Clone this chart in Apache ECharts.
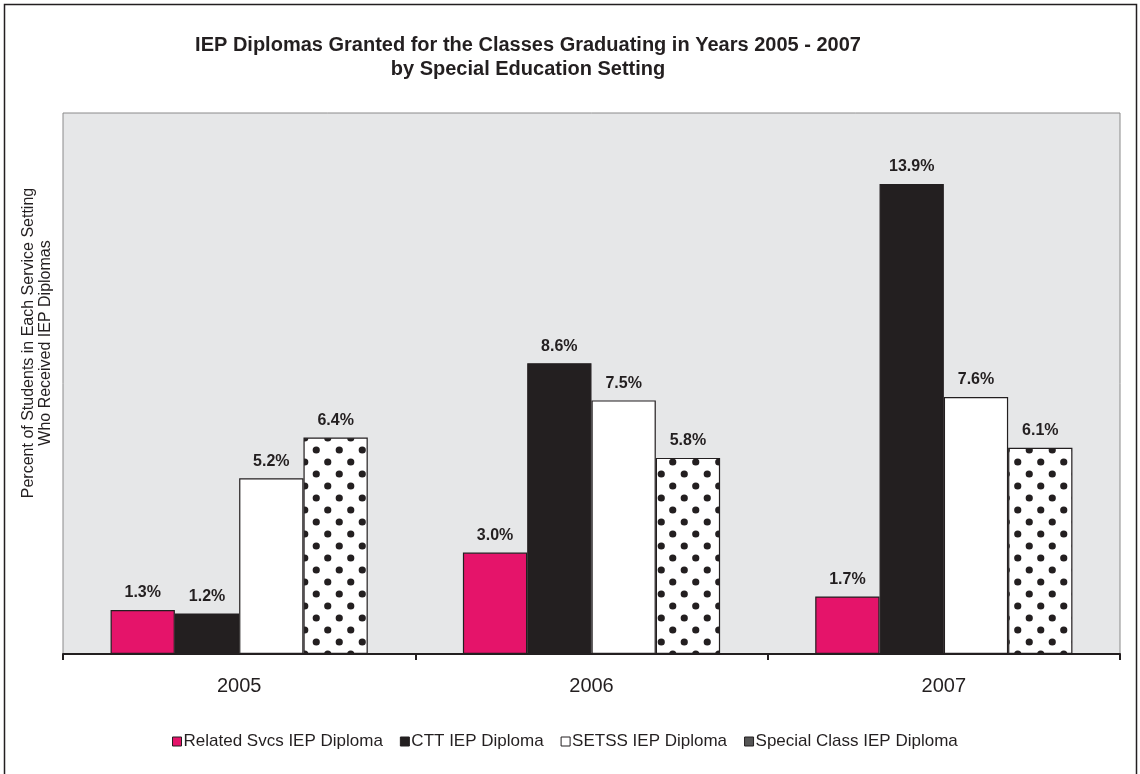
<!DOCTYPE html>
<html><head><meta charset="utf-8">
<script src="https://cdn.jsdelivr.net/npm/echarts@6/dist/echarts.min.js"></script>
<style>html,body{margin:0;padding:0;background:#fff}#c{width:1140px;height:774px}</style>
</head><body><div id="c"></div>
<script>
const categories = ['2005', '2006', '2007'];
const seriesNames = ['Related Svcs IEP Diploma', 'CTT IEP Diploma', 'SETSS IEP Diploma', 'Special Class IEP Diploma'];
const relatedSvcs = [1.3, 3.0, 1.7];
const ctt = [1.2, 8.6, 13.9];
const setss = [5.2, 7.5, 7.6];
const specialClass = [6.4, 5.8, 6.1];

const FONT = '"Liberation Sans", Arial, sans-serif';
const INK = '#231f20';

// dot pattern tile
const tile = document.createElement('canvas');
tile.width = 23; tile.height = 24;
const tc = tile.getContext('2d');
tc.fillStyle = '#fff'; tc.fillRect(0, 0, 23, 24);
tc.fillStyle = INK;
[[5.75, 6], [17.25, 18], [17.25 - 23, 18], [5.75 + 23, 6]].forEach(([x, y]) => {
  tc.beginPath(); tc.arc(x, y, 3.6, 0, Math.PI * 2); tc.fill();
});

const fills = ['#e5146a', INK, '#ffffff', { image: tile, repeat: 'repeat' }];
const legendColors = ['#e5146a', INK, '#ffffff', '#555555'];
const dataSets = [relatedSvcs, ctt, setss, specialClass];

const chart = echarts.init(document.getElementById('c'), null, { renderer: 'canvas' });
chart.setOption({
  animation: false,
  backgroundColor: '#fff',
  title: {
    text: 'IEP Diplomas Granted for the Classes Graduating in Years 2005 - 2007\nby Special Education Setting',
    left: 523, top: 28, textAlign: 'center',
    textStyle: { fontFamily: FONT, fontSize: 20, fontWeight: 'bold', color: INK, lineHeight: 24 }
  },
  grid: { left: 63, right: 20, top: 113, bottom: 120, containLabel: false, show: true,
    backgroundColor: '#e6e7e8', borderColor: '#8a8a8a', borderWidth: 1 },
  legend: {
    bottom: 19, left: 167, itemWidth: 9, itemHeight: 9, itemGap: 17,
    icon: 'rect',
    textStyle: { fontFamily: FONT, fontSize: 17, color: INK, padding: [0, 0, 0, -3] },
    data: seriesNames.map((n, i) => ({ name: n, itemStyle: { color: legendColors[i], borderColor: INK, borderWidth: 1 } }))
  },
  xAxis: {
    type: 'category', data: categories,
    axisLine: { show: true, lineStyle: { color: INK, width: 2 } },
    axisTick: { show: true, length: 6, lineStyle: { color: INK, width: 2 } },
    axisLabel: { fontFamily: FONT, fontSize: 20, color: INK, margin: 22 },
    splitLine: { show: false }
  },
  yAxis: {
    type: 'value', min: 0, max: 16, interval: 2,
    axisLine: { show: false }, axisTick: { show: false }, axisLabel: { show: false },
    splitLine: { show: false }
  },
  graphic: [
    { type: 'rect', shape: { x: 4.5, y: 4.5, width: 1132, height: 800 }, style: { fill: null, stroke: INK, lineWidth: 1.5 }, silent: true, z: 100 },
    { type: 'text', x: 37, y: 343, rotation: Math.PI / 2, style: {
      text: 'Percent of Students in Each Service Setting\nWho Received IEP Diplomas',
      fill: INK, font: '16px ' + FONT, align: 'center', verticalAlign: 'middle', lineHeight: 17 } }
  ],
  series: seriesNames.map((n, i) => ({
    name: n, type: 'bar', data: dataSets[i],
    barGap: '0%', barCategoryGap: '27%',
    itemStyle: { color: fills[i], borderColor: INK, borderWidth: 1.2 },
    label: { show: true, position: 'top', distance: 9, formatter: p => p.value.toFixed(1) + '%',
      fontFamily: FONT, fontSize: 16, fontWeight: 'bold', color: INK }
  }))
});
</script></body></html>
